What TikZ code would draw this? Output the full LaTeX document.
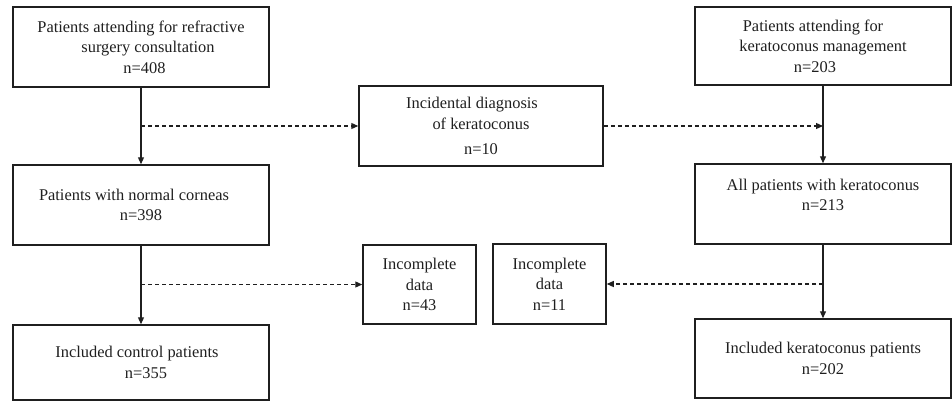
\documentclass[tikz,border=0pt]{standalone}
\usepackage{fontspec}
\setmainfont{Liberation Serif}
\usetikzlibrary{arrows.meta}
\begin{document}
\begin{tikzpicture}[x=1pt,y=-1pt,
  box/.style={draw=black!88, line width=1.5pt, align=center, inner sep=0pt,
    text=black!88, font=\fontsize{16.4}{20.5}\selectfont},
  solidarrow/.style={draw=black!88, line width=1.2pt, -{Triangle[length=7pt,width=6pt]}},
  dasharrow/.style={draw=black!88, line width=1.2pt, dash pattern=on 4pt off 3pt,
    -{Triangle[length=7pt,width=6pt]}}]
\useasboundingbox (0,0) rectangle (952,402);

\node[box, minimum width=256pt, minimum height=80pt] (A) at (141,47)
  {Patients attending for refractive\\\hspace*{14pt}surgery consultation\\\hspace*{7pt}n=408};
\node[box, minimum width=244pt, minimum height=80pt] (B) at (481,126)
  {Incidental diagnosis\hspace*{18pt}\\of keratoconus\hspace*{18pt}\\[5pt]n=10};
\node[box, minimum width=256pt, minimum height=78pt] (C) at (823,46)
  {Patients attending for\hspace*{20pt}\\keratoconus management\hspace*{20pt}\\n=203\hspace*{16pt}};
\node[box, minimum width=256pt, minimum height=80pt] (D) at (141,205)
  {Patients with normal corneas\hspace*{14pt}\\n=398};
\node[box, minimum width=256pt, minimum height=80pt, text depth=18pt] (H) at (823,204)
  {All patients with keratoconus\\n=213};
\node[box, minimum width=113pt, minimum height=79pt] (E) at (419.5,284.5)
  {Incomplete\\data\\n=43};
\node[box, minimum width=113pt, minimum height=80pt] (F) at (549.5,284)
  {Incomplete\\data\\n=11};
\node[box, minimum width=256pt, minimum height=75pt] (G) at (141,362.5)
  {Included control patients\hspace*{8pt}\\\hspace*{10pt}n=355};
\node[box, minimum width=256pt, minimum height=79pt] (I) at (823,358.5)
  {Included keratoconus patients\\n=202};

\draw[solidarrow] (A.south) -- (D.north);
\coordinate (a1) at (A.south |- B.west);
\draw[dasharrow] (a1) -- (B.west);
\coordinate (c1) at (C.south |- B.east);
\draw[dasharrow] (B.east) -- (c1);
\draw[solidarrow] (C.south) -- (H.north);

\draw[solidarrow] (D.south) -- (G.north);
\coordinate (d1) at (D.south |- E.west);
\draw[dasharrow] (d1) -- (E.west);
\draw[solidarrow] (H.south) -- (I.north);
\coordinate (h1) at (H.south |- F.east);
\draw[dasharrow] (h1) -- (F.east);
\end{tikzpicture}
\end{document}
